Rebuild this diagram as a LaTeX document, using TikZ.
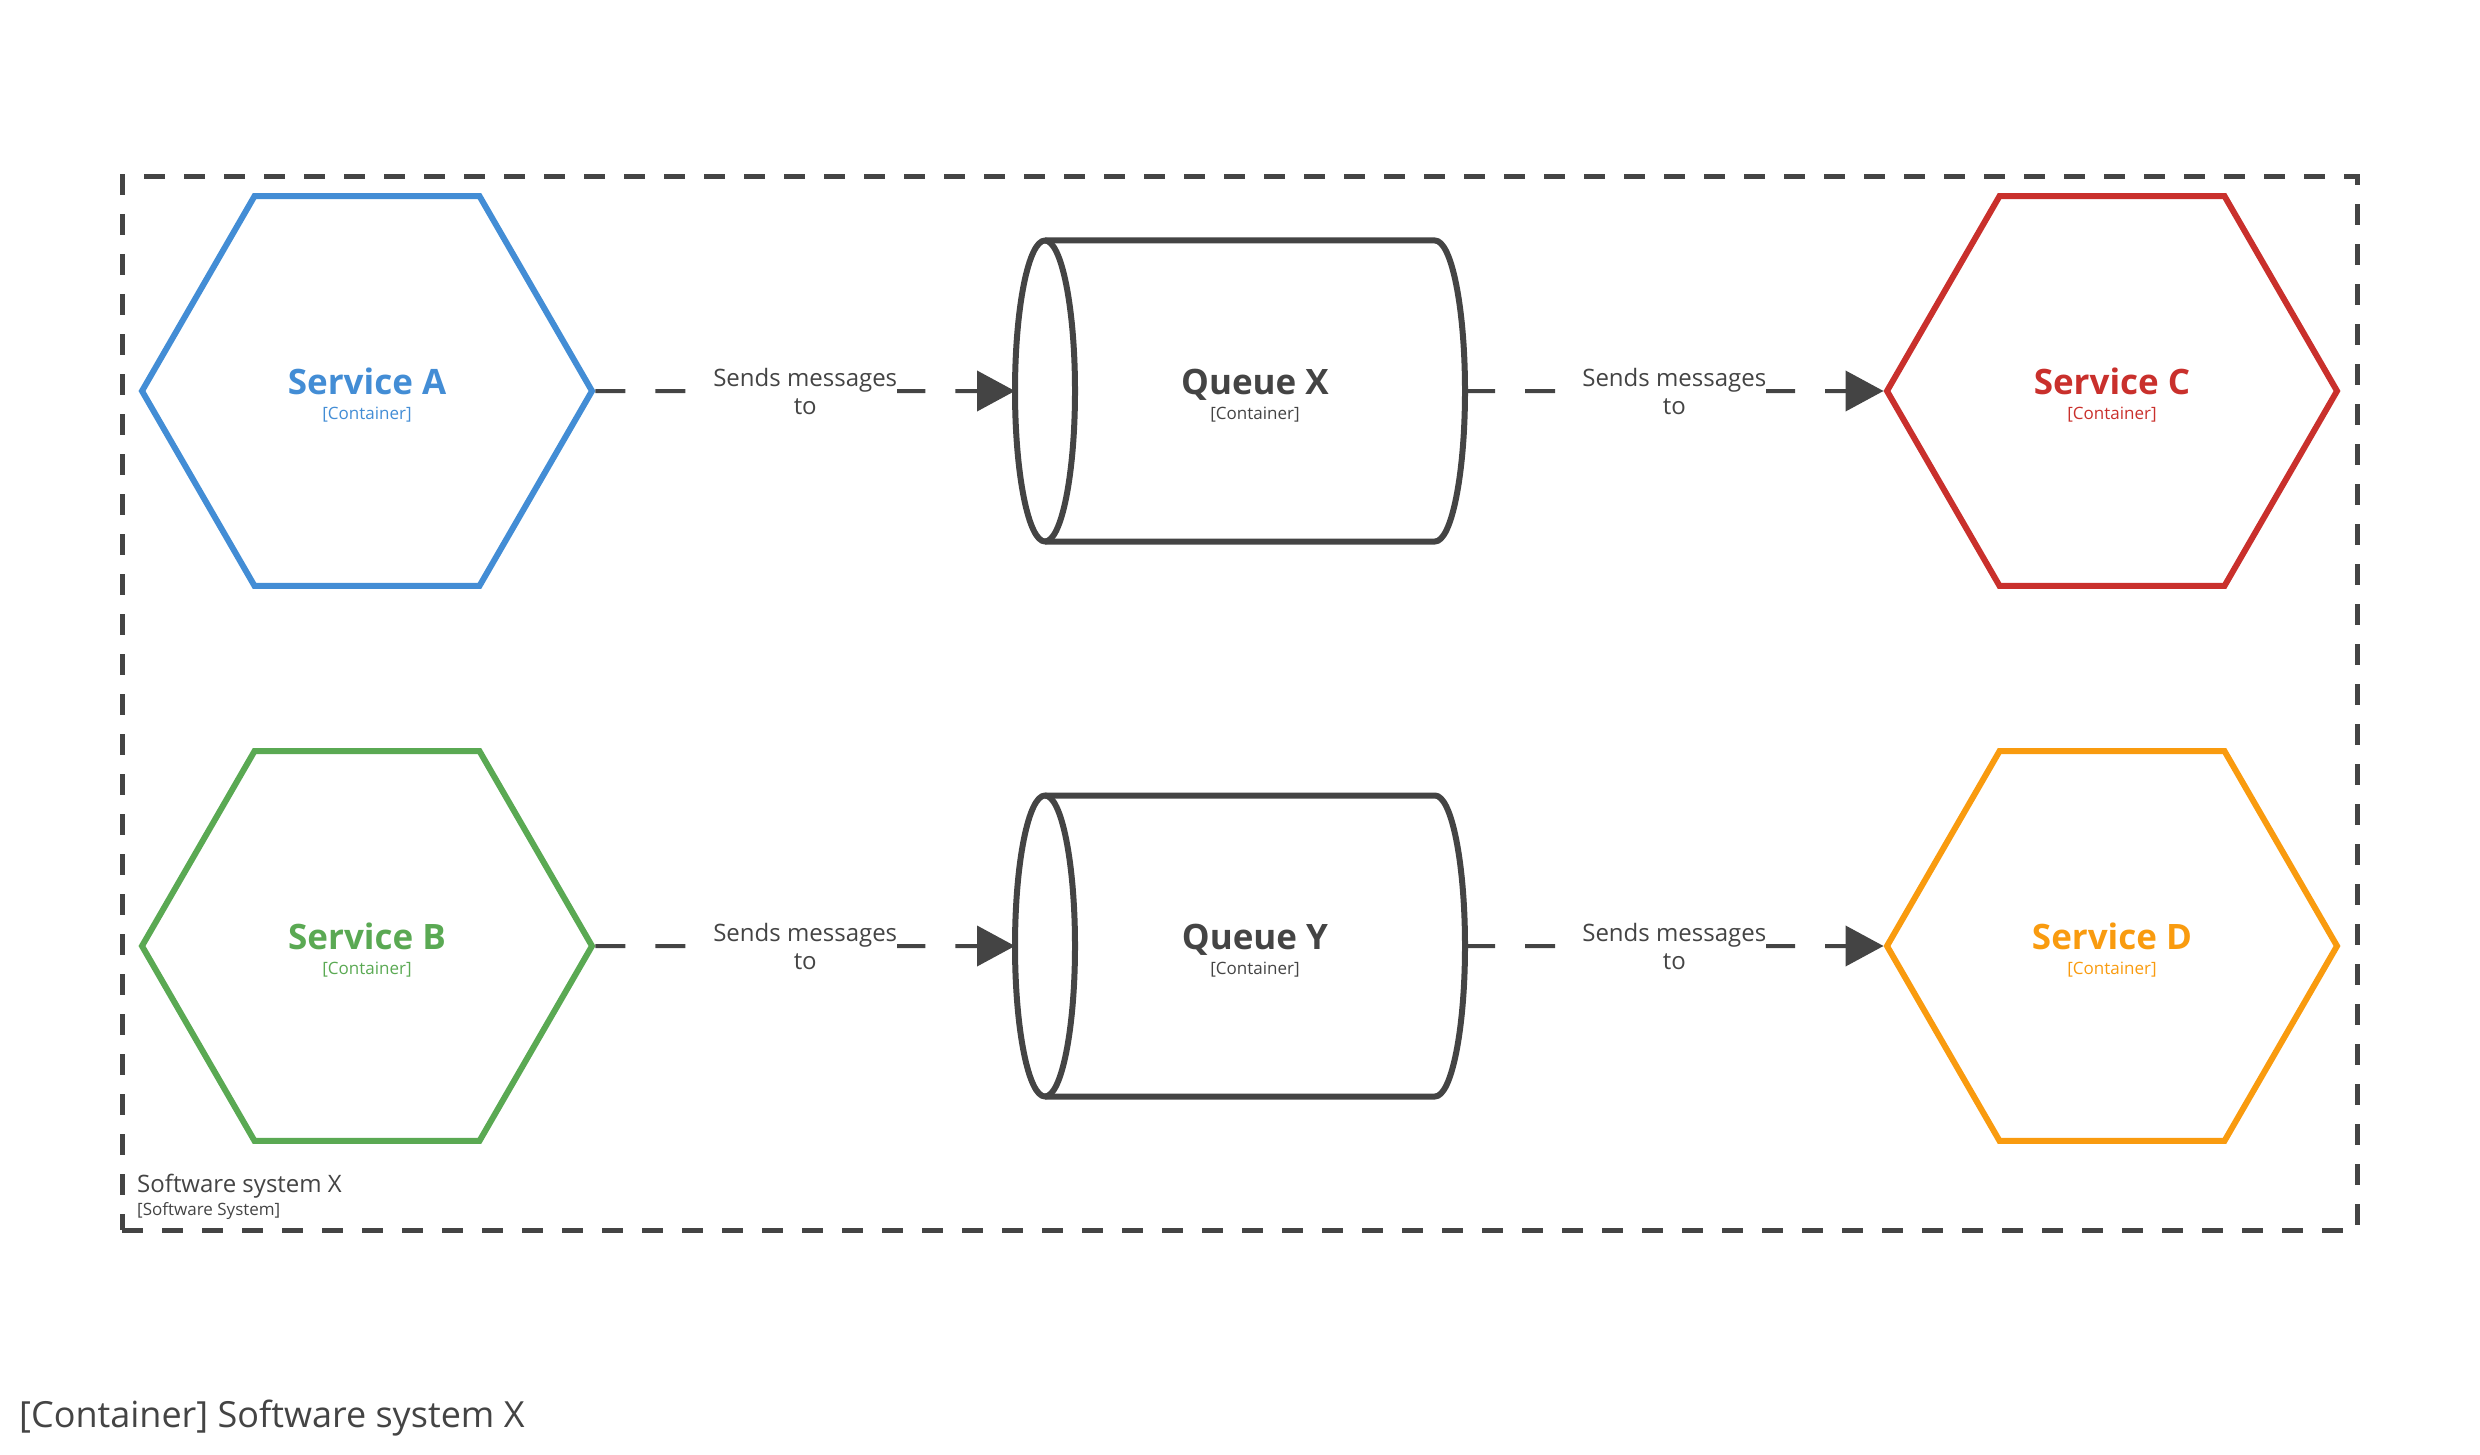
\documentclass[tikz,border=0pt]{standalone}
\usepackage{fontspec}
\setmainfont{Open Sans}
\usetikzlibrary{shapes.geometric,arrows.meta,calc}
\definecolor{ink}{HTML}{444444}
\definecolor{svcblue}{HTML}{438DD5}
\definecolor{svcgreen}{HTML}{5AA953}
\definecolor{svcred}{HTML}{C9302C}
\definecolor{svcorange}{HTML}{F99B0F}
\newcommand{\ctitle}[1]{{\fontsize{35}{40}\selectfont\bfseries\rule{0pt}{35pt}#1}}
\tikzset{
  hexnode/.style={regular polygon, regular polygon sides=6, minimum size=450pt,
    inner sep=0pt, line width=6pt, draw=#1, text=#1, align=center,
    font=\fontsize{17}{25}\selectfont},
  qbody/.style={minimum width=420pt, minimum height=301pt, inner sep=0pt, outer sep=0pt,
    align=center, text=ink, font=\fontsize{17}{25}\selectfont},
  cyl/.style={draw=ink, line width=6pt, line join=round},
  rel/.style={draw=ink, line width=4pt, dash pattern=on 30pt off 30pt,
    -{Triangle[length=38pt,width=40pt]}},
  rellabel/.style={fill=white, inner sep=0pt, text=ink, align=center,
    font=\fontsize{24}{28}\selectfont},
  boundary/.style={draw=ink, line width=5pt, dash pattern=on 21pt off 19pt,
    minimum width=2235pt, minimum height=1053pt, inner sep=0pt},
}
\begin{document}
\begin{tikzpicture}[x=1pt,y=-1pt]
\useasboundingbox (0,0) rectangle (2480,1455);

% boundary
\node[boundary] (SX) at (1239.5,703.5) {};
\node[anchor=west, align=left, inner sep=0pt, text=ink, font=\fontsize{17}{23}\selectfont]
  (SXlabel) at (137,1197) {{\fontsize{24}{28}\selectfont Software system X}\\{[Software System]}};

% services
\node[hexnode=svcblue] (A) at (367,391) {\ctitle{Service A}\\{[Container]}};
\node[hexnode=svcgreen] (B) at (367,946) {\ctitle{Service B}\\{[Container]}};
\node[hexnode=svcred] (C) at (2112,391) {\ctitle{Service C}\\{[Container]}};
\node[hexnode=svcorange] (D) at (2112,946) {\ctitle{Service D}\\{[Container]}};

% queues
\node[qbody] (QX) at (1255,391) {\ctitle{Queue X}\\{[Container]}};
\node[qbody] (QY) at (1255,946) {\ctitle{Queue Y}\\{[Container]}};
\foreach \q in {QX,QY}{
  \draw[cyl] (\q.north west) -- ($(\q.north east)+(-30,0)$)
    arc[start angle=90, end angle=-90, x radius=30pt, y radius=150.5pt]
    -- (\q.south west);
  \draw[cyl] (\q.west) ellipse [x radius=30pt, y radius=150.5pt];
}
\coordinate (QXin) at ($(QX.west)+(-30,0)$);
\coordinate (QYin) at ($(QY.west)+(-30,0)$);

% relationships
\draw[rel] (A) -- node[rellabel] (L1) {Sends messages\\to} (QXin);
\draw[rel] (QX.east) -- node[rellabel] (L2) {Sends messages\\to} (C);
\draw[rel] (B) -- node[rellabel] (L3) {Sends messages\\to} (QYin);
\draw[rel] (QY.east) -- node[rellabel] (L4) {Sends messages\\to} (D);

% title
\node[anchor=west, inner sep=0pt, text=ink, font=\fontsize{36}{42}\selectfont]
  (title) at (19,1418) {[Container] Software system X};
\end{tikzpicture}
\end{document}
